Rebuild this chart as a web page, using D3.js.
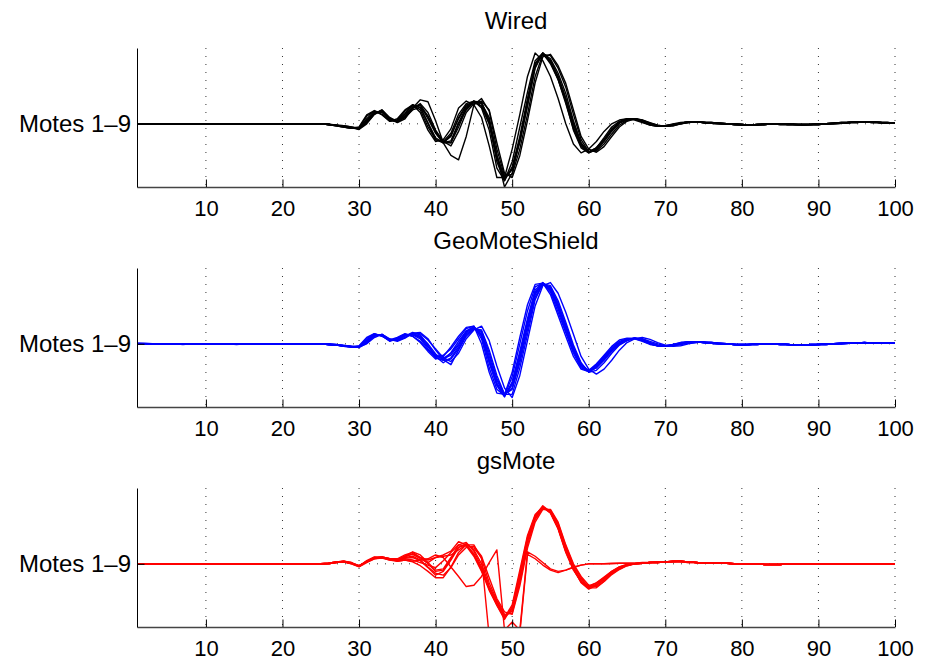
<!DOCTYPE html>
<html>
<head>
<meta charset="utf-8">
<script src="https://cdn.jsdelivr.net/npm/d3@7"></script>
<style>
  body { margin: 0; background: #fff; }
  svg { display: block; background: #fff; }
</style>
</head>
<body>
<svg></svg>
<script>
var titles = ["Wired", "GeoMoteShield", "gsMote"]
var colors = ["#000000", "#0000ff", "#ff0000"]
var yLabel = "Motes 1–9"
var xTicks = [10, 20, 30, 40, 50, 60, 70, 80, 90, 100]

// samples 1..100, one row per mote (1-9)
var wired = [
  [0,0,0,0,0, 0,0,0,0,0, 0,0,0,0,0, 0,0,0,0,0, 0,0,0,0,0,
   -1,-2,-4,-6,-8,6,18,20,5,4,16,30,26,0,-25,-30,-18,
   8,28,36,28,0,-50,-86,-72,-28,30,90,112,100,75,40,0,-32,-45,
   -38,-25,-10,2,7,8,5,0,-3,-4,-2,1,3,3,2,
   1,0,0,-1,-2,-2,-1,0,0,-1,-1,-1,-1,-1,0,0,1,2,2,3,3,2,2,1,1],
  [0,0,0,0,0, 0,0,0,0,0, 0,0,0,0,0, 0,0,0,0,0, 0,0,0,0,0,
   -1,-3,-5,-7,-6,12,20,15,4,6,20,30,22,-5,-25,-28,-15,
   15,32,36,25,-10,-70,-90,-60,-5,50,100,112,95,70,35,-10,-38,-46,
   -38,-22,-5,4,8,7,3,-2,-4,-3,0,2,3,3,2,
   1,1,0,-1,-1,-2,-1,-1,0,0,-1,-1,-2,-1,-1,0,1,1,2,3,3,3,2,1,1],
  [0,0,0,0,0, 0,0,0,0,0, 0,0,0,0,0, 0,0,0,0,0, 0,0,0,0,0,
   -1,-3,-5,-7,-5,14,21,14,4,8,22,30,18,-10,-28,-25,-8,
   25,36,30,10,-35,-85,-85,-40,15,75,112,100,75,40,0,-32,-46,-40,
   -28,-12,0,6,8,6,2,-2,-4,-3,-1,1,3,3,2,
   2,1,0,0,-1,-2,-2,-1,0,0,0,-1,-1,-1,-1,0,0,1,2,2,3,3,2,2,1],
  [0,0,0,0,0, 0,0,0,0,0, 0,0,0,0,0, 0,0,0,0,0, 0,0,0,0,0,
   -1,-2,-4,-6,-9,0,15,22,8,2,8,25,38,35,5,-30,-50,
   -57,-20,30,40,20,-40,-82,-80,-40,15,75,110,108,88,58,15,-25,-44,
   -43,-32,-16,-2,5,8,6,1,-2,-4,-3,0,2,3,2,
   1,0,0,-1,-2,-2,-1,0,0,-1,-1,-1,-1,-1,0,0,1,2,2,3,3,2,2,1,1],
  [0,0,0,0,0, 0,0,0,0,0, 0,0,0,0,0, 0,0,0,0,0, 0,0,0,0,0,
   -1,-2,-3,-5,-7,3,16,22,10,4,10,22,26,12,-12,-28,-30,
   0,22,34,32,5,-55,-86,-72,-25,35,95,110,100,72,36,-5,-34,-44,
   -38,-25,-10,2,7,8,5,1,-3,-4,-2,0,2,3,2,
   1,1,0,-1,-1,-2,-1,-1,0,0,-1,-1,-2,-1,-1,0,1,1,2,3,3,3,2,1,1],
  [0,0,0,0,0, 0,0,0,0,0, 0,0,0,0,0, 0,0,0,0,0, 0,0,0,0,0,
   -1,-2,-4,-6,-8,2,16,21,8,3,12,26,30,12,-14,-30,-30,
   -5,24,36,34,5,-50,-100,-78,-25,35,95,110,98,70,32,-8,-36,-46,
   -40,-26,-10,2,7,8,5,0,-3,-4,-2,1,3,3,2,
   2,1,0,0,-1,-2,-2,-1,0,0,0,-1,-1,-1,-1,0,0,1,2,2,3,3,2,2,1],
  [0,0,0,0,0, 0,0,0,0,0, 0,0,0,0,0, 0,0,0,0,0, 0,0,0,0,0,
   -1,-3,-5,-7,-7,8,20,18,6,5,16,30,26,2,-22,-30,-20,
   10,30,34,28,0,-60,-90,-68,-20,40,95,112,100,75,40,0,-32,-45,
   -40,-25,-8,3,7,7,4,-1,-4,-3,-1,1,3,3,2,
   1,0,0,-1,-2,-2,-1,0,0,-1,-1,-1,-1,-1,0,0,1,2,2,3,3,2,2,1,1],
  [0,0,0,0,0, 0,0,0,0,0, 0,0,0,0,0, 0,0,0,0,0, 0,0,0,0,0,
   -1,-2,-4,-6,-8,2,15,21,9,3,10,24,32,18,-10,-28,-35,
   -12,18,32,36,22,-30,-78,-85,-50,5,65,106,110,92,64,22,-20,-40,
   -45,-36,-20,-5,4,8,6,2,-2,-4,-3,0,2,3,2,
   1,1,0,-1,-1,-2,-1,-1,0,0,-1,-1,-2,-1,-1,0,1,1,2,3,3,3,2,1,1],
  [0,0,0,0,0, 0,0,0,0,0, 0,0,0,0,0, 0,0,0,0,0, 0,0,0,0,0,
   0,-2,-3,-5,-8,4,17,20,7,3,13,27,30,8,-15,-30,-27,
   2,26,35,33,10,-50,-87,-72,-28,28,88,112,103,80,48,5,-30,-45,
   -42,-28,-12,1,6,8,5,0,-3,-4,-2,1,3,3,2,
   2,1,0,0,-1,-2,-2,-1,0,0,0,-1,-1,-1,-1,0,0,1,2,2,3,3,2,2,1]
]

var geoMote = [
  [1,1,0,0,0, 0,0,0,0,0, 0,0,0,0,0, 0,0,0,0,0, 0,0,0,0,0,
   -1,-2,-3,-4,-5,4,14,14,5,7,14,15,10,-5,-18,-24,-18,
   -2,18,26,15,-25,-62,-82,-65,-20,32,80,96,85,55,20,-12,-34,-42,
   -32,-20,-8,2,7,9,6,1,-3,-4,-2,1,3,3,2,
   1,0,0,-1,-1,-1,0,0,0,-1,-1,-2,-2,-1,-1,0,0,1,1,1,1,1,1,1,1],
  [0,0,0,0,0, 0,-1,0,0,0, 0,0,0,0,0, 0,0,0,0,0, 0,0,0,0,0,
   -1,-2,-4,-5,-3,10,16,12,6,10,16,12,2,-12,-24,-20,-5,
   12,26,28,0,-45,-78,-80,-45,10,62,94,96,78,45,12,-20,-40,-44,
   -32,-18,-4,6,9,8,4,-1,-3,-3,-1,2,3,3,2,
   2,1,0,-1,-2,-1,-1,0,0,0,-1,-2,-2,-2,-1,-1,0,0,1,1,2,1,1,1,1],
  [0,0,0,0,0, 0,0,0,0,0, 0,0,0,-1,0, 0,0,0,0,0, 0,0,0,0,0,
   0,-1,-2,-4,-5,0,10,15,8,5,10,16,16,6,-8,-22,-28,
   -15,8,22,28,5,-35,-70,-85,-50,5,60,92,97,80,50,15,-20,-40,
   -48,-40,-26,-10,2,8,10,7,2,-2,-4,-3,0,2,3,
   1,0,0,-1,-1,-1,0,0,0,-1,-1,-2,-2,-1,-1,0,0,1,1,1,1,1,1,1,1],
  [0,0,0,0,0, 0,0,0,0,0, 0,0,0,0,0, 0,0,0,0,0, 0,0,0,0,0,
   -1,-2,-3,-5,-5,3,13,15,6,6,12,18,14,-2,-20,-30,-22,
   -5,16,25,18,-20,-58,-80,-70,-25,28,78,95,88,60,25,-10,-36,-44,
   -34,-22,-10,0,6,9,7,2,-2,-4,-3,0,2,3,2,
   2,1,0,-1,-2,-1,-1,0,0,0,-1,-2,-2,-2,-1,-1,0,0,1,1,2,1,1,1,1],
  [1,0,0,0,0, 0,0,0,0,0, 0,0,0,0,0, 0,0,0,0,0, 0,0,0,0,0,
   -1,-2,-3,-4,-4,6,15,13,4,8,15,14,8,-8,-22,-26,-14,
   4,20,27,12,-30,-66,-84,-60,-12,40,85,97,86,58,25,-8,-34,-44,
   -36,-24,-9,2,8,9,5,0,-3,-4,-1,1,3,3,2,
   1,0,0,-1,-1,-1,0,0,0,-1,-1,-2,-2,-1,-1,0,0,1,1,1,1,1,1,1,1],
  [0,0,0,0,0, 0,0,0,0,0, 0,0,0,0,0, 0,0,0,0,0, 0,0,0,0,0,
   0,-1,-3,-4,-6,1,12,15,7,4,9,17,18,8,-10,-25,-33,
   -10,12,24,22,-10,-50,-80,-80,-38,15,70,95,92,68,34,-2,-30,-45,
   -42,-30,-15,-2,5,9,8,4,0,-3,-3,-1,1,2,3,
   2,1,0,-1,-2,-1,-1,0,0,0,-1,-2,-2,-2,-1,-1,0,0,1,1,2,1,1,1,1],
  [0,0,0,0,0, 0,0,0,0,0, 0,0,0,0,0, 0,0,0,0,0, 0,0,0,0,0,
   -1,-2,-4,-5,-4,8,16,12,5,9,15,12,4,-10,-20,-18,-8,
   8,24,28,8,-38,-72,-82,-52,0,52,90,96,82,50,18,-15,-38,-44,
   -34,-20,-6,4,8,8,5,0,-3,-3,-1,2,3,3,2,
   1,0,0,-1,-1,-1,0,0,0,-1,-1,-2,-2,-1,-1,0,0,1,1,1,1,1,1,1,1],
  [0,0,0,0,0, 0,0,0,0,0, 0,0,0,0,0, 0,0,0,0,0, 0,0,0,0,0,
   -1,-2,-3,-4,-5,3,13,14,6,6,13,16,12,0,-16,-26,-24,
   -8,14,24,20,-15,-55,-80,-72,-30,22,74,94,90,64,30,-6,-32,-44,
   -38,-26,-12,-1,5,9,7,2,-2,-4,-2,0,2,3,2,
   2,1,0,-1,-2,-1,-1,0,0,0,-1,-2,-2,-2,-1,-1,0,0,1,1,2,1,1,1,1],
  [0,0,0,0,0, 0,0,0,0,0, 0,0,0,0,0, 0,0,0,0,0, 0,0,0,0,0,
   -1,-2,-3,-5,-5,5,14,14,5,7,13,15,11,-4,-19,-23,-15,
   0,20,27,14,-28,-64,-83,-62,-16,36,82,96,88,60,28,-6,-32,-43,
   -38,-25,-10,1,7,9,6,1,-3,-4,-2,1,3,3,2,
   1,0,0,-1,-1,-1,0,0,0,-1,-1,-2,-2,-1,-1,0,0,1,1,1,1,1,1,1,1]
]

var gsMote = [
  [0,0,0,0,0, 0,0,0,0,0, 0,0,0,0,0, 0,0,0,0,0, 0,0,0,0,0,
   1,3,4,1,-4,4,10,10,7,5,8,6,2,-2,-6,5,18,
   30,28,12,-12,-42,-65,-85,-65,-10,45,78,90,80,55,18,-10,-28,-35,
   -30,-22,-12,-5,-1,0,1,2,2,3,4,4,3,2,1,
   1,1,1,0,0,0,0,-1,-1,-1,0,0,0,0,0,0,0,0,0,0,0,0,0,0,0],
  [0,0,0,0,0, 0,0,0,0,0, 0,0,0,0,0, 0,0,0,0,0, 0,0,0,0,0,
   0,2,4,2,-3,3,9,11,8,8,14,18,10,0,-12,-10,8,
   26,32,22,0,-35,-60,-82,-75,-25,35,72,88,84,62,25,-5,-25,-36,
   -34,-26,-15,-7,-2,0,1,2,3,3,4,4,3,2,1,
   1,1,1,0,0,0,0,-1,-1,-1,0,0,0,0,0,0,0,0,0,0,0,0,0,0,0],
  [0,0,0,0,0, 0,0,0,0,0, 0,0,0,0,0, 0,0,0,0,0, 0,0,0,0,0,
   1,3,3,0,-5,2,8,10,8,4,6,3,-3,-12,-22,-22,-5,
   18,30,30,8,-30,-58,-80,-78,-30,30,70,88,85,64,28,-2,-22,-38,
   -38,-28,-16,-8,-3,0,1,2,2,3,3,4,3,2,1,
   1,1,1,0,0,0,0,-1,-1,-1,0,0,0,0,0,0,0,0,0,0,0,0,0,0,0],
  [0,0,0,0,0, 0,0,0,0,0, 0,0,0,0,0, 0,0,0,0,0, 0,0,0,0,0,
   0,2,4,1,-4,5,11,10,6,6,12,19,14,2,-10,-8,10,
   30,34,20,-5,-40,-66,-88,-68,-15,42,76,92,82,58,20,-8,-30,-40,
   -34,-24,-14,-6,-2,0,1,2,3,3,4,4,3,2,1,
   1,1,1,0,0,0,0,-1,-1,-1,0,0,0,0,0,0,0,0,0,0,0,0,0,0,0],
  [0,0,0,0,0, 0,0,0,0,0, 0,0,0,0,0, 0,0,0,0,0, 0,0,0,0,0,
   1,3,3,1,-4,3,9,10,7,5,9,10,5,-6,-18,-12,6,
   26,30,16,-8,-40,-62,-84,-72,-20,38,74,89,81,56,20,-8,-28,-36,
   -30,-21,-12,-5,-1,0,1,2,2,3,4,4,3,2,1,
   1,1,1,0,0,0,0,-1,-1,-1,0,0,0,0,0,0,0,0,0,0,0,0,0,0,0],
  [0,0,0,0,0, 0,0,0,0,0, 0,0,0,0,0, 0,0,0,0,0, 0,0,0,0,0,
   0,2,3,1,-3,4,9,11,8,6,10,12,6,-5,-15,-18,-6,
   14,26,28,12,-22,-55,-76,-80,-35,25,66,86,86,66,30,0,-20,-34,
   -36,-28,-17,-9,-3,0,1,2,2,3,3,4,3,2,1,
   1,1,1,0,0,0,0,-1,-1,-1,0,0,0,0,0,0,0,0,0,0,0,0,0,0,0],
  [0,0,0,0,0, 0,0,0,0,0, 0,0,0,0,0, 0,0,0,0,0, 0,0,0,0,0,
   1,3,4,2,-4,4,10,11,8,6,12,15,8,2,10,14,20,
   35,30,14,-10,-38,-64,-86,-70,-18,40,75,90,82,57,21,-8,-29,-38,
   -32,-23,-13,-6,-2,0,1,2,3,3,4,4,3,2,1,
   1,1,1,0,0,0,0,-1,-1,-1,0,0,0,0,0,0,0,0,0,0,0,0,0,0,0],
  [0,0,0,0,0, 0,0,0,0,0, 0,0,0,0,0, 0,0,0,0,0, 0,0,0,0,0,
   0,2,3,1,-3,3,8,9,6,4,6,4,6,8,14,10,-5,
   -20,-36,-34,-20,2,22,-105,-92,-105,19,12,2,-8,-12,-10,-6,-2,0,
   0,0,0,1,1,1,1,2,2,3,3,3,2,2,1,
   1,1,1,0,0,0,0,-1,-1,-1,0,0,0,0,0,0,0,0,0,0,0,0,0,0,0],
  [0,0,0,0,0, 0,0,0,0,0, 0,0,0,0,0, 0,0,0,0,0, 0,0,0,0,0,
   1,2,3,0,-4,4,9,10,7,6,11,16,10,6,10,12,14,
   22,30,25,10,-115,-200,-220,-200,-110,15,8,-2,-10,-14,-10,-5,-2,0,
   0,0,1,1,1,1,2,2,2,3,3,3,2,2,1,
   1,1,1,0,0,0,0,-1,-1,-1,0,0,0,0,0,0,0,0,0,0,0,0,0,0,0]
]

var panels = [wired, geoMote, gsMote]

var svg = d3.select("svg")
    .attr("width", 940)
    .attr("height", 661)

var x = d3.scaleLinear()
    .domain([1, 100])
    .range([137, 895])

panels.forEach(function(traces, i) {
    var top = 48 + i * 220
    var bottom = top + 139
    var y = d3.scaleLinear()
        .domain([-100, 120])
        .range([bottom, top])

    var g = svg.append("g")

    g.append("clipPath")
        .attr("id", "clip" + i)
        .append("rect")
        .attr("x", x(1))
        .attr("y", top)
        .attr("width", x(100) - x(1))
        .attr("height", bottom - top)

    // dotted grid
    g.selectAll(".vgrid")
        .data(xTicks)
        .enter().append("line")
        .attr("class", "vgrid")
        .attr("x1", d => x(d)).attr("x2", d => x(d))
        .attr("y1", top).attr("y2", bottom)
        .style("stroke", "#333")
        .style("stroke-width", 1)
        .style("stroke-dasharray", "1,7")
    g.append("line")
        .attr("x1", x(1)).attr("x2", x(100))
        .attr("y1", y(0)).attr("y2", y(0))
        .style("stroke", "#333")
        .style("stroke-width", 1)
        .style("stroke-dasharray", "1,7")

    var line = d3.line()
        .x((d, j) => x(j + 1))
        .y(d => y(d))

    g.append("g")
        .attr("clip-path", "url(#clip" + i + ")")
        .selectAll("path")
        .data(traces)
        .enter().append("path")
        .attr("d", line)
        .style("fill", "none")
        .style("stroke", colors[i])
        .style("stroke-width", 1.4)
        .style("stroke-linejoin", "round")

    var xAxis = g.append("g")
        .attr("transform", "translate(0," + bottom + ")")
        .call(d3.axisBottom(x).tickValues(xTicks).tickSizeInner(-7.5).tickSizeOuter(0).tickPadding(13))
    xAxis.select(".domain").style("stroke", "#444").style("stroke-width", 1.4)
    xAxis.selectAll(".tick line").style("stroke", "#000")
    xAxis.selectAll("text")
        .style("font-family", "'Liberation Sans', Arial, sans-serif")
        .style("font-size", "22px")
        .style("fill", "#000")

    var yAxis = g.append("g")
        .attr("transform", "translate(" + x(1) + ",0)")
        .call(d3.axisLeft(y).tickValues([0]).tickFormat(() => yLabel).tickSizeInner(-7.5).tickSizeOuter(0).tickPadding(6))
    yAxis.select(".domain").style("stroke", "#000").style("stroke-width", 1)
    yAxis.selectAll("text")
        .style("font-family", "'Liberation Sans', Arial, sans-serif")
        .style("font-size", "24px")
        .style("fill", "#000")

    g.append("text")
        .attr("x", (x(1) + x(100)) / 2)
        .attr("y", top - 19)
        .style("text-anchor", "middle")
        .style("font-family", "'Liberation Sans', Arial, sans-serif")
        .style("font-size", "24px")
        .text(titles[i])
})
</script>
</body>
</html>
